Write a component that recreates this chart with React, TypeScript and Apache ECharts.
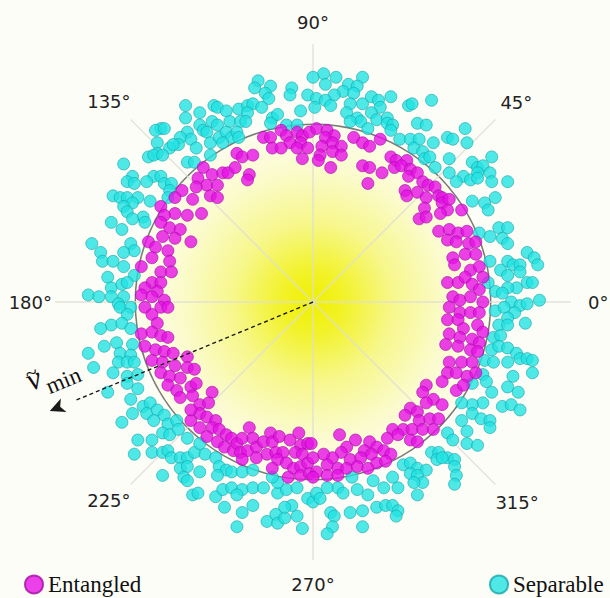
import React, { useEffect, useRef } from "react";
import * as echarts from "echarts";

// Points in units of the boundary circle's radius (circle radius = 100)
const entangledPoints: number[][] = [
  [-28,93],[-24,93],[-18,97],[-15,94],[-9,96],[-6,94],[-2,96],[-7,90],[-13,90],[-23,87],
  [-18,87],[-9,87],[-3,87],[-6,81],[-43,84],[-40,82],[-34,83],[-62,76],[-57,72],[-51,73],
  [-48,73],[-44,76],[-36,72],[-37,69],[-65,70],[-60,66],[-54,66],[-58,60],[-54,59],[-66,65],
  [-74,63],[-68,58],[-78,59],[-71,49],[-78,50],[-63,50],[-86,54],[-84,49],
  [2,98],[8,97],[12,94],[7,93],[11,90],[5,88],[16,88],[11,85],[16,83],[4,83],
  [3,80],[10,76],[23,93],[28,90],[32,88],[38,92],[28,77],[32,76],[39,73],[31,67],
  [44,82],[47,80],[53,80],[46,76],[50,77],[55,75],[54,71],[59,73],[62,68],[65,66],
  [69,65],[52,63],[53,60],[59,62],[64,59],[71,60],[73,59],[73,56],[77,58],[76,52],
  [84,52],[63,53],[72,50],[60,47],[64,48],
  [-81,42],[-75,41],[-85,37],[-78,36],[-69,34],[-93,34],[-89,31],[-82,29],[-91,25],[-81,23],
  [-97,20],[-86,17],[-80,17],[-91,11],[-86,11],[-95,8],[-88,6],[-97,4],[-91,3],[-84,1],
  [-95,-3],[-91,-7],[-86,-3],[-82,-3],[-88,-12],[-97,-18],[-91,-17],[-86,-19],[-82,-20],[-95,-25],
  [-89,-27],[-84,-28],[-79,-29],[-71,-31],[-91,-33],[-85,-34],[-78,-36],[-71,-37],[-67,-38],[-86,-40],
  [-81,-42],[-75,-43],
  [71,40],[77,41],[82,39],[87,40],[76,35],[81,34],[88,33],[92,34],[79,25],[86,27],
  [92,27],[80,21],[89,18],[94,20],[96,14],[76,11],[82,11],[86,14],[90,10],[94,7],
  [79,3],[83,1],[89,3],[96,0],[77,-3],[83,-6],[89,-6],[94,-6],[76,-10],[82,-10],
  [93,-13],[96,-17],[85,-15],[77,-18],[83,-20],[90,-21],[94,-23],[75,-24],[82,-25],[89,-27],
  [93,-28],[77,-34],[84,-34],[90,-34],[76,-40],[81,-40],[87,-42],[92,-40],
  [-82,-47],[-77,-50],[-69,-48],[-66,-46],[-75,-54],[-68,-53],[-57,-51],[-64,-58],[-59,-57],[-69,-67],
  [-64,-63],[-60,-65],[-55,-67],[-64,-71],[-57,-71],[-53,-72],[-49,-75],[-46,-77],[-60,-76],[-54,-79],
  [-50,-82],[-45,-84],[-43,-80],[-40,-77],[-36,-71],[-34,-77],[-41,-85],[-37,-84],[-40,-89],[-32,-82],
  [-28,-79],[-24,-74],[-23,-79],[-19,-76],[-32,-88],[-26,-86],[-21,-85],[-17,-85],[-13,-78],[-8,-74],
  [-7,-81],[-3,-80],[-10,-85],[-6,-86],[-20,-89],[-15,-91],[-23,-94],[-11,-94],[-7,-93],[-3,-91],
  [-14,-99],[-7,-98],[-2,-97],[-69,-61],
  [64,-47],[73,-45],[81,-50],[85,-47],[62,-51],[68,-55],[73,-58],[64,-57],[55,-60],[59,-62],
  [52,-64],[60,-67],[66,-66],[71,-66],[45,-72],[51,-72],[56,-72],[62,-72],[68,-72],[42,-77],
  [48,-75],[55,-78],[59,-79],[15,-75],[24,-78],[19,-82],[32,-79],[36,-82],[29,-84],[40,-84],
  [33,-86],[44,-86],[16,-85],[11,-88],[21,-89],[27,-88],[36,-91],[41,-90],[6,-86],[0,-88],
  [8,-92],[14,-94],[19,-94],[25,-93],[31,-94],[2,-96],[8,-98],[14,-98],[0,-99],[-1,-80],
  [-86,45]
];

const separablePoints: number[][] = [
  [-31,125],[-33,121],[-24,122],[-27,118],[-25,115],[-12,121],[-13,117],[-3,117],[-7,108],[-72,111],
  [-72,104],[-64,107],[-56,111],[-54,110],[-49,108],[-42,109],[-37,111],[-34,112],[-29,110],[-37,107],
  [-47,102],[-41,102],[-38,102],[-64,100],[-62,97],[-57,102],[-54,100],[-23,104],[-20,106],[-24,101],
  [-15,100],[-9,100],[-86,98],[-89,97],[-84,98],[-71,96],[-69,92],[-75,93],[-76,89],[-81,87],
  [-88,90],[-88,84],[-93,82],[-90,83],[-85,83],[-79,89],[-66,87],[-60,96],[-58,90],[-53,93],
  [-49,96],[-46,93],[-43,96],[-42,93],[-51,90],[-58,83],[-71,79],[-67,79],[-107,78],[-90,71],
  [-86,71],[-102,71],[-105,68],[-101,67],[-84,67],[-80,67],[-81,63],[-82,59],[-94,68],[-113,60],
  [-109,59],[-105,59],[-99,59],[-102,56],[-107,54],[-105,51],[-92,57],[-96,48],[-102,47],
  [6,129],[13,127],[7,123],[0,127],[28,127],[20,123],[25,122],[17,119],[23,118],[12,117],
  [2,115],[7,114],[10,111],[1,110],[21,112],[28,112],[33,116],[37,114],[44,116],[38,110],
  [33,107],[36,103],[19,107],[25,104],[27,102],[21,102],[31,98],[42,104],[42,101],[45,100],
  [44,97],[54,111],[56,112],[67,114],[49,92],[55,92],[60,92],[57,87],[62,85],[59,101],
  [64,100],[68,90],[63,81],[66,82],[76,93],[79,92],[86,98],[87,90],[77,81],[77,73],
  [69,76],[90,79],[93,76],[96,77],[101,82],[93,73],[100,73],[85,71],[81,68],[89,69],
  [93,70],[101,68],[110,68],[90,57],[97,56],[103,59],[99,52],
  [-114,45],[-108,41],[-95,45],[-125,33],[-120,28],[-119,23],[-113,23],[-107,20],[-103,33],[-101,29],
  [-107,28],[-101,15],[-116,14],[-114,8],[-108,10],[-105,11],[-127,4],[-121,3],[-114,3],[-107,3],
  [-110,-1],[-109,-3],[-103,-3],[-105,-7],[-114,-13],[-108,-12],[-120,-15],[-103,-15],[-118,-25],[-111,-23],
  [-102,-24],[-127,-29],[-109,-29],[-103,-30],[-110,-34],[-105,-34],[-101,-34],[-124,-37],[-113,-40],[-105,-42],
  [-99,-41],
  [105,42],[110,42],[94,39],[100,37],[107,36],[110,33],[121,28],[125,25],[110,23],[113,21],
  [117,21],[127,21],[100,23],[106,18],[110,15],[117,17],[121,11],[124,11],[115,8],[110,8],
  [103,6],[107,5],[99,11],[112,0],[117,-2],[121,-1],[128,1],[103,-5],[108,-3],[114,-6],
  [110,-9],[105,-13],[110,-13],[120,-12],[102,-20],[106,-19],[101,-27],[105,-25],[110,-26],[115,-29],
  [117,-32],[121,-32],[124,-33],[97,-33],[102,-34],[110,-34],[124,-40],[113,-42],[96,-41],
  [-116,-51],[-105,-46],[-99,-49],[-103,-55],[-102,-63],[-108,-68],[-96,-59],[-92,-57],[-94,-63],[-88,-61],
  [-90,-67],[-84,-64],[-82,-69],[-85,-74],[-81,-75],[-77,-67],[-76,-72],[-99,-78],[-91,-78],[-101,-86],
  [-91,-85],[-85,-85],[-82,-84],[-80,-88],[-75,-88],[-71,-88],[-67,-85],[-64,-80],[-71,-77],[-61,-86],
  [-55,-88],[-75,-94],[-71,-93],[-85,-98],[-73,-99],[-71,-101],[-64,-96],[-53,-93],[-49,-95],[-54,-98],
  [-46,-96],[-68,-109],[-65,-108],[-55,-110],[-51,-106],[-46,-105],[-40,-106],[-43,-109],[-34,-105],[-28,-105],
  [-40,-96],[-34,-95],[-50,-116],[-40,-119],[-34,-115],[-43,-127],[-26,-124],[-21,-120],[-20,-125],[-16,-122],
  [-9,-121],[-6,-128],[-12,-115],[-16,-116],[-20,-108],[-15,-106],[-9,-105],[-3,-111],[0,-113],[-20,-102],
  [-23,-99],
  [90,-46],[98,-45],[110,-48],[116,-51],[101,-51],[96,-57],[90,-58],[84,-57],[90,-63],[95,-66],
  [100,-67],[100,-71],[107,-59],[112,-58],[117,-61],[84,-67],[76,-74],[79,-78],[87,-73],[87,-80],
  [93,-81],[67,-85],[71,-85],[76,-88],[80,-89],[70,-89],[80,-93],[81,-98],[80,-103],[73,-88],
  [51,-92],[55,-91],[59,-94],[64,-95],[55,-97],[59,-98],[62,-102],[57,-102],[45,-99],[48,-105],
  [40,-105],[34,-101],[22,-99],[14,-105],[8,-105],[2,-108],[4,-111],[17,-108],[25,-106],[31,-109],
  [59,-109],[10,-119],[12,-121],[21,-119],[28,-118],[36,-116],[41,-115],[45,-115],[48,-118],[47,-121],
  [11,-127],[8,-131],[28,-127]
];

const seriesNames = ["Entangled", "Separable"];
const angleTickStep = 45;
const circleRadius = 100;
const axisMax = 145.8;
const arrowAngle = 202.5;
const arrowLength = 161;
const arrowLabel = "\u03BD";
const arrowLabelAccent = "~";
const arrowLabelSub = "min";

export default function App() {
  const ref = useRef<HTMLDivElement>(null);
  useEffect(() => {
    if (!ref.current) return;
    const chart = echarts.init(ref.current, undefined, { renderer: "svg" });
    const CX = 313, CY = 302, R = 258;
    const pads: Record<string, number[]> = {
      a0: [0, 0, 0, 17], a45: [0, 0, 8, 5], a90: [0, 0, 13, 0], a135: [0, 0, 9, 0],
      a180: [0, 3, 0, 0], a225: [7, 0, 0, 0], a270: [15, 0, 0, 0], a315: [9, 0, 0, 0],
    };
    const rich: Record<string, any> = {};
    Object.keys(pads).forEach((k) => {
      rich[k] = { padding: pads[k], fontSize: 18, fontFamily: "DejaVu Sans", color: "#222" };
    });
    const gradient = new echarts.graphic.RadialGradient(0.5, 0.5, 0.5, [
      { offset: 0, color: "#f0f000" },
      { offset: 0.18, color: "#f2f22a" },
      { offset: 0.45, color: "#f7f78c" },
      { offset: 0.75, color: "#fbfbcd" },
      { offset: 1, color: "#fdfdec" },
    ]);
    const option: any = {
      animation: false,
      backgroundColor: "#fdfdf7",
      polar: { center: [CX, CY], radius: [0, R] },
      angleAxis: {
        type: "value", min: 0, max: 360, interval: angleTickStep, startAngle: 0, clockwise: false,
        axisLine: { show: false }, axisTick: { show: false },
        splitLine: { show: true, lineStyle: { color: "rgba(222,222,212,0.85)", width: 1.4 } },
        axisLabel: {
          show: true, margin: 0, fontSize: 18, fontFamily: "DejaVu Sans", color: "#222",
          formatter: (v: number) => `{a${v}|${v}°}`, rich,
        },
      },
      radiusAxis: {
        type: "value", min: 0, max: axisMax, interval: circleRadius,
        axisLine: { show: false }, axisTick: { show: false }, axisLabel: { show: false },
        splitLine: { show: true, lineStyle: { color: ["rgba(0,0,0,0)", "#7a7a7a", "rgba(0,0,0,0)"], width: 3 } },
        splitArea: { show: true, areaStyle: { color: [gradient, "rgba(0,0,0,0)"] } },
      },
      grid: { left: CX - R, top: CY - R, width: 2 * R, height: 2 * R, show: false },
      xAxis: { type: "value", min: -axisMax, max: axisMax, show: false },
      yAxis: { type: "value", min: -axisMax, max: axisMax, show: false },
      legend: [
        {
          data: [seriesNames[0]], left: 19, top: 568, icon: "circle", itemWidth: 18, itemHeight: 18,
          textStyle: { fontFamily: "Liberation Serif", fontSize: 23, color: "#111" },
        },
        {
          data: [seriesNames[1]], left: 484, top: 568, icon: "circle", itemWidth: 18, itemHeight: 18,
          textStyle: { fontFamily: "Liberation Serif", fontSize: 23, color: "#111" },
        },
      ],
      series: [
        {
          name: seriesNames[1], type: "scatter", coordinateSystem: "cartesian2d",
          data: separablePoints, symbolSize: 12,
          itemStyle: { color: "#22e2e2", borderColor: "#17a5aa", borderWidth: 0.8 },
        },
        {
          name: seriesNames[0], type: "scatter", coordinateSystem: "cartesian2d",
          data: entangledPoints, symbolSize: 12,
          itemStyle: { color: "#e610e6", borderColor: "#a30ea3", borderWidth: 0.8 },
        },
        {
          name: "arrow", type: "line", coordinateSystem: "polar", clip: false, silent: true, z: 5,
          data: [
            { value: [0, arrowAngle], symbol: "none" },
            { value: [arrowLength, arrowAngle], symbol: "arrow", symbolSize: [11, 15], symbolRotate: arrowAngle - 90 },
          ],
          lineStyle: { color: "#1a1a1a", width: 1.4, type: [4, 3] },
          itemStyle: { color: "#1a1a1a" },
        },
      ],
      graphic: [
        {
          type: "group", x: 47, y: 390, rotation: (22.5 * Math.PI) / 180, silent: true,
          children: [
            {
              type: "text", x: -1, y: 0,
              style: { text: arrowLabel, font: 'italic 32px "Liberation Serif"', fill: "#111", align: "right", verticalAlign: "bottom" },
            },
            {
              type: "text", x: -8, y: -22,
              style: { text: arrowLabelAccent, font: '22px "Liberation Serif"', fill: "#111", align: "center", verticalAlign: "middle" },
            },
            {
              type: "text", x: 1, y: 9,
              style: { text: arrowLabelSub, font: '23px "Liberation Serif"', fill: "#111", align: "left", verticalAlign: "bottom" },
            },
          ],
        },
      ],
    };
    chart.setOption(option);
    return () => chart.dispose();
  }, []);
  return <div ref={ref} style={{ position: "absolute", left: 0, top: 0, width: 610, height: 598 }} />;
}
